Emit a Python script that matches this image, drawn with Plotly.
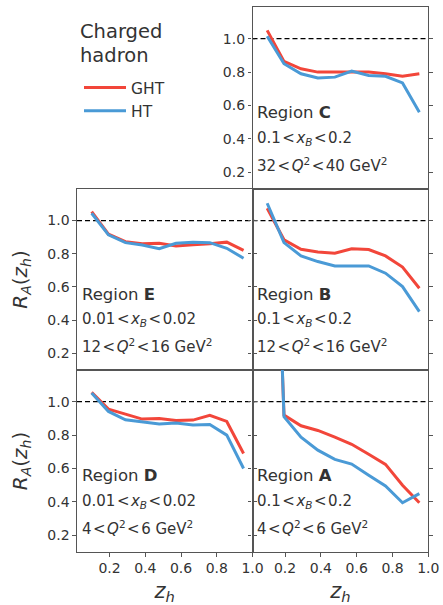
import plotly.graph_objects as go

# ---------------- data ----------------
z_h = [0.1, 0.194, 0.289, 0.383, 0.478, 0.572, 0.667, 0.761, 0.856, 0.95]

ght_C = [1.05, 0.864, 0.82, 0.80, 0.80, 0.80, 0.80, 0.79, 0.775, 0.79]
ht_C = [1.015, 0.85, 0.79, 0.765, 0.77, 0.806, 0.78, 0.775, 0.735, 0.56]

ght_E = [1.054, 0.918, 0.873, 0.86, 0.863, 0.847, 0.855, 0.86, 0.87, 0.82]
ht_E = [1.044, 0.914, 0.867, 0.853, 0.83, 0.863, 0.87, 0.867, 0.833, 0.773]

ght_B = [1.074, 0.884, 0.827, 0.81, 0.803, 0.83, 0.825, 0.787, 0.72, 0.592]
ht_B = [1.104, 0.867, 0.787, 0.753, 0.727, 0.727, 0.727, 0.683, 0.602, 0.452]

ght_D = [1.056, 0.956, 0.926, 0.896, 0.90, 0.888, 0.89, 0.918, 0.882, 0.69]
ht_D = [1.052, 0.942, 0.892, 0.878, 0.866, 0.872, 0.86, 0.864, 0.80, 0.60]

ght_A = [3.6, 0.92, 0.856, 0.828, 0.788, 0.745, 0.685, 0.625, 0.50, 0.395]
ht_A = [3.8, 0.91, 0.788, 0.71, 0.655, 0.627, 0.56, 0.495, 0.395, 0.45]

HS = "\u200a"  # hair space
LT = HS + "&lt;" + HS
region_names = ["C", "E", "B", "D", "A"]
xb_labels = ["0.1" + LT + "<i>x</i><sub><i>B</i></sub>" + LT + "0.2",
             "0.01" + LT + "<i>x</i><sub><i>B</i></sub>" + LT + "0.02",
             "0.1" + LT + "<i>x</i><sub><i>B</i></sub>" + LT + "0.2",
             "0.01" + LT + "<i>x</i><sub><i>B</i></sub>" + LT + "0.02",
             "0.1" + LT + "<i>x</i><sub><i>B</i></sub>" + LT + "0.2"]
q2_labels = ["32" + LT + "<i>Q</i><sup>2</sup>" + LT + "40 GeV<sup>2</sup>",
             "12" + LT + "<i>Q</i><sup>2</sup>" + LT + "16 GeV<sup>2</sup>",
             "12" + LT + "<i>Q</i><sup>2</sup>" + LT + "16 GeV<sup>2</sup>",
             "4" + LT + "<i>Q</i><sup>2</sup>" + LT + "6 GeV<sup>2</sup>",
             "4" + LT + "<i>Q</i><sup>2</sup>" + LT + "6 GeV<sup>2</sup>"]
ght_all = [ght_C, ght_E, ght_B, ght_D, ght_A]
ht_all = [ht_C, ht_E, ht_B, ht_D, ht_A]

y_ticks = [0.2, 0.4, 0.6, 0.8, 1.0]
x_ticks = [0.2, 0.4, 0.6, 0.8, 1.0]

# ---------------- layout geometry ----------------
W, H = 443, 605
col_x = [(77 / W, 252.5 / W), (252.5 / W, 428.3 / W)]
row_y = [(1 - 189 / H, 1 - 7 / H), (1 - 370 / H, 1 - 189 / H), (1 - 552 / H, 1 - 370 / H)]
# (col, row) for panels C, E, B, D, A
cells = [(1, 0), (0, 1), (1, 1), (0, 2), (1, 2)]

RED = "#f2463a"
BLUE = "#4a9ad6"
TXT = "#333333"
SPINE = "#555555"
FONT = "DejaVu Sans"

fig = go.Figure()
layout = dict(
    width=W, height=H,
    margin=dict(l=0, r=0, t=0, b=0, autoexpand=False),
    paper_bgcolor="white", plot_bgcolor="white",
    font=dict(family=FONT, color=TXT, size=14),
    showlegend=True,
)

annotations = []
shapes = []
for i, (col, row) in enumerate(cells):
    n = "" if i == 0 else str(i + 1)
    xa, ya = "x" + n, "y" + n
    fig.add_trace(go.Scatter(x=z_h, y=ght_all[i], mode="lines", name="GHT",
                             line=dict(color=RED, width=3), xaxis=xa, yaxis=ya,
                             showlegend=(i == 0)))
    fig.add_trace(go.Scatter(x=z_h, y=ht_all[i], mode="lines", name="HT",
                             line=dict(color=BLUE, width=3), xaxis=xa, yaxis=ya,
                             showlegend=(i == 0)))
    bottom = row == 2
    left_labels = (col == 0) or (row == 0)
    layout["xaxis" + n] = dict(
        domain=list(col_x[col]), anchor=ya, range=[0.018, 1.0], automargin=False,
        tickvals=x_ticks, ticktext=[f"{v:.1f}" for v in x_ticks],
        showticklabels=bottom, ticks="outside" if bottom else "",
        ticklen=3.5, tickwidth=1, tickcolor=SPINE,
        showline=True, linecolor=SPINE, linewidth=1.3, mirror=True,
        showgrid=False, zeroline=False, tickfont=dict(size=14, color=TXT),
        title=dict(text="<i>z</i><sub><i>h</i></sub>", font=dict(size=21, color=TXT), standoff=16) if bottom else None,
    )
    layout["yaxis" + n] = dict(
        domain=list(row_y[row]), anchor=xa, range=[0.1, 1.19], automargin=False,
        tickvals=y_ticks, ticktext=[f"{v:.1f}" for v in y_ticks],
        showticklabels=left_labels, ticks="outside",
        ticklen=3.5, tickwidth=1, tickcolor=SPINE,
        showline=True, linecolor=SPINE, linewidth=1.3, mirror="ticks",
        showgrid=False, zeroline=False, tickfont=dict(size=14, color=TXT),
        title=dict(text="<i>R</i><sub><i>A</i></sub>(<i>z</i><sub><i>h</i></sub>)",
                   font=dict(size=20, color=TXT), standoff=14) if col == 0 else None,
    )
    shapes.append(dict(type="line", xref=xa + " domain", yref=ya, x0=0, x1=1, y0=1.0, y1=1.0,
                       line=dict(color="black", width=1.3, dash="5px,3px"), layer="below"))
    texts = ["Region <b>" + region_names[i] + "</b>", xb_labels[i], q2_labels[i]]
    ys = [0.418, 0.278, 0.133]
    sizes = [16.5, 15, 15]
    for t, yy, fs in zip(texts, ys, sizes):
        annotations.append(dict(text=t, xref=xa + " domain", yref=ya + " domain",
                                x=0.015, y=yy, xanchor="left", yanchor="middle",
                                showarrow=False, font=dict(size=fs, color=TXT, family=FONT)))

# legend title (two lines placed individually for tight line spacing)
for t, ypix in zip(["Charged", "hadron"], [32, 56]):
    annotations.append(dict(text=t, xref="paper", yref="paper", x=78 / W, y=1 - ypix / H,
                            xanchor="left", yanchor="middle", showarrow=False,
                            font=dict(size=19.5, color=TXT, family=FONT)))

layout["annotations"] = annotations
layout["shapes"] = shapes
layout["legend"] = dict(
    x=79 / W, y=1 - 71 / H, xanchor="left", yanchor="top",
    bgcolor="rgba(0,0,0,0)", borderwidth=0,
    font=dict(size=15.5, color=TXT, family=FONT),
    tracegroupgap=0, itemwidth=42,
)
fig.update_layout(**layout)

fig.write_html("out.html", config={"displayModeBar": False},
               post_script="document.body.style.margin='0';")
